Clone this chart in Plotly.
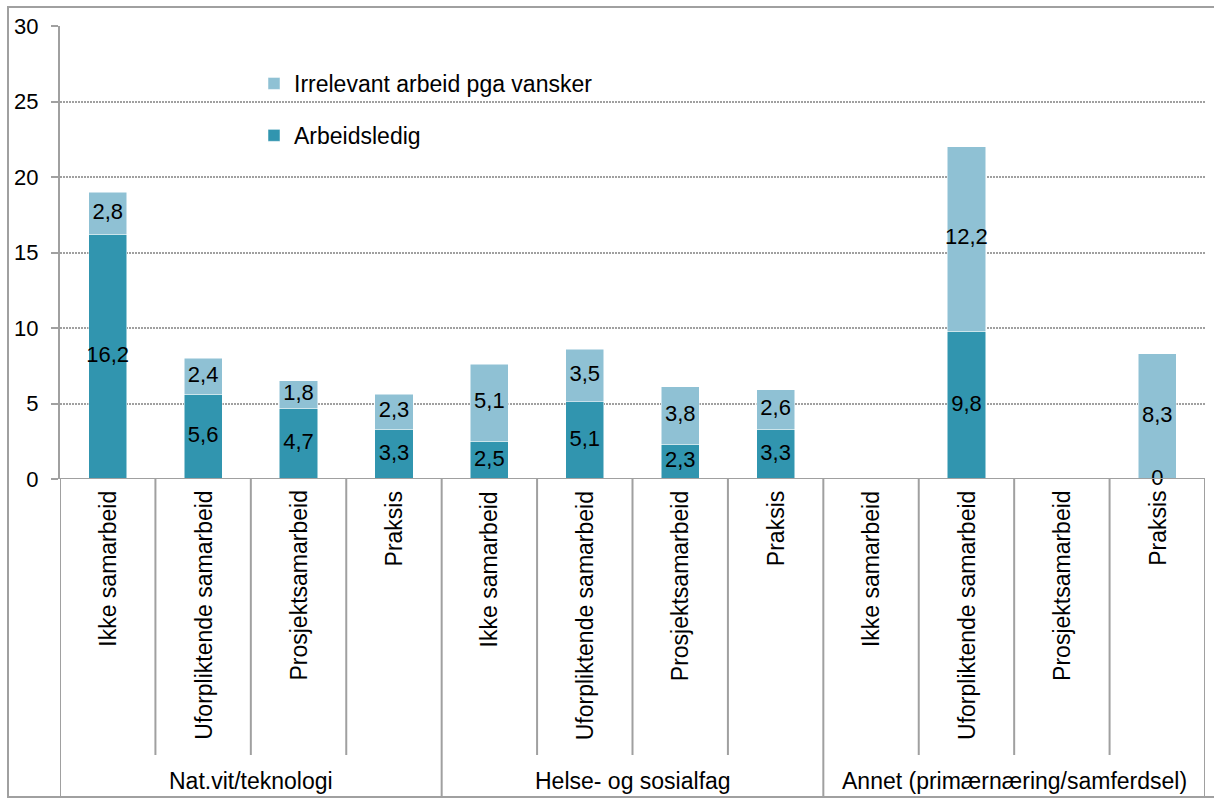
import plotly.graph_objects as go

groups = ["Nat.vit/teknologi", "Helse- og sosialfag", "Annet (primærnæring/samferdsel)"]
subcats = ["Ikke samarbeid", "Uforpliktende samarbeid", "Prosjektsamarbeid", "Praksis"]

arbeidsledig = [16.2, 5.6, 4.7, 3.3, 2.5, 5.1, 2.3, 3.3, None, 9.8, None, 0]
irrelevant = [2.8, 2.4, 1.8, 2.3, 5.1, 3.5, 3.8, 2.6, None, 12.2, None, 8.3]

y_ticks = [0, 5, 10, 15, 20, 25, 30]

DARK = "#3195AF"
LIGHT = "#8FC1D4"
AXIS = "#A0A0A0"
FONT = "Liberation Sans, Arial, sans-serif"

# pixel geometry of the plot area
W, H = 1214, 798
L, R, T, B = 60, 1205, 26, 479
ph = B - T


def py(pix):
    # pixel row -> paper y
    return (B - pix) / ph


def px(pix):
    return (pix - L) / (R - L)


def fmt(v):
    if v is None:
        return ""
    if v == 0:
        return "0"
    return f"{v:.1f}".replace(".", ",")


n = len(groups) * len(subcats)
xs = list(range(n))

fig = go.Figure()
fig.add_trace(go.Bar(
    x=xs, y=arbeidsledig, name="Arbeidsledig", marker=dict(color=DARK, line=dict(color="white", width=0.5)),
    width=0.4, legendgroup="a", legendrank=2, hoverinfo="skip",
))
fig.add_trace(go.Bar(
    x=xs, y=irrelevant, name="Irrelevant arbeid pga vansker", marker=dict(color=LIGHT, line=dict(color="white", width=0.5)),
    width=0.4, legendgroup="b", legendrank=1, hoverinfo="skip",
))

# segment labels, centred in each stacked piece
lx, ly, lt = [], [], []
for i in xs:
    a, b = arbeidsledig[i], irrelevant[i]
    if a is not None:
        lx.append(i); ly.append(a / 2); lt.append(fmt(a))
    if b is not None:
        base = a or 0
        lx.append(i); ly.append(base + b / 2); lt.append(fmt(b))
fig.add_trace(go.Scatter(
    x=lx, y=ly, text=lt, mode="text", showlegend=False, hoverinfo="skip",
    textfont=dict(family=FONT, size=22, color="black"), cliponaxis=False,
))

shapes = []
annotations = []
# category labels and separators under the axis
for i in xs:
    annotations.append(dict(
        x=i, y=py(489), xref="x", yref="paper", text=subcats[i % len(subcats)],
        textangle=-90, showarrow=False, yanchor="top", xanchor="center",
        font=dict(family=FONT, size=23, color="black"),
    ))
for k in range(n + 1):
    bottom = py(797) if k % len(subcats) == 0 else py(755)
    shapes.append(dict(type="line", xref="x", yref="paper", x0=k - 0.5, x1=k - 0.5,
                       y0=0, y1=bottom, line=dict(color=AXIS, width=2)))
for g, name in enumerate(groups):
    annotations.append(dict(
        x=g * len(subcats) + (len(subcats) - 1) / 2, y=py(781), xref="x", yref="paper",
        text=name, showarrow=False, yanchor="middle",
        font=dict(family=FONT, size=23, color="black"),
    ))
# outer frame
shapes.append(dict(type="rect", xref="paper", yref="paper", x0=px(8), x1=px(1230), y0=py(7), y1=py(797),
                   line=dict(color="#A0A0A0", width=2), layer="below"))

fig.update_layout(
    barmode="stack",
    width=W, height=H,
    margin=dict(l=L, r=W - R, t=T, b=H - B),
    paper_bgcolor="white", plot_bgcolor="white",
    font=dict(family=FONT, size=22, color="black"),
    showlegend=True,
    legend=dict(x=px(254), y=py(62), xanchor="left", yanchor="top", traceorder="grouped",
                tracegroupgap=19, font=dict(size=23), bgcolor="rgba(0,0,0,0)"),
    xaxis=dict(range=[-0.5, n - 0.5], showticklabels=False, showgrid=False, zeroline=False,
               showline=False, ticks=""),
    yaxis=dict(range=[0, 30], tickvals=y_ticks, showgrid=True, gridcolor="#A0A0A0", gridwidth=1.5,
               griddash="2px,1px", zeroline=False, showline=True, linecolor=AXIS, linewidth=2,
               ticks="outside", ticklen=7, tickcolor=AXIS, tickwidth=2,
               tickfont=dict(size=22), ticklabelstandoff=8),
    shapes=shapes,
    annotations=annotations,
)
# horizontal axis line at zero
fig.add_hline(y=0, line=dict(color=AXIS, width=2))

fig.write_html("out.html", config={"displayModeBar": False},
               post_script="document.body.style.margin='0px';")
